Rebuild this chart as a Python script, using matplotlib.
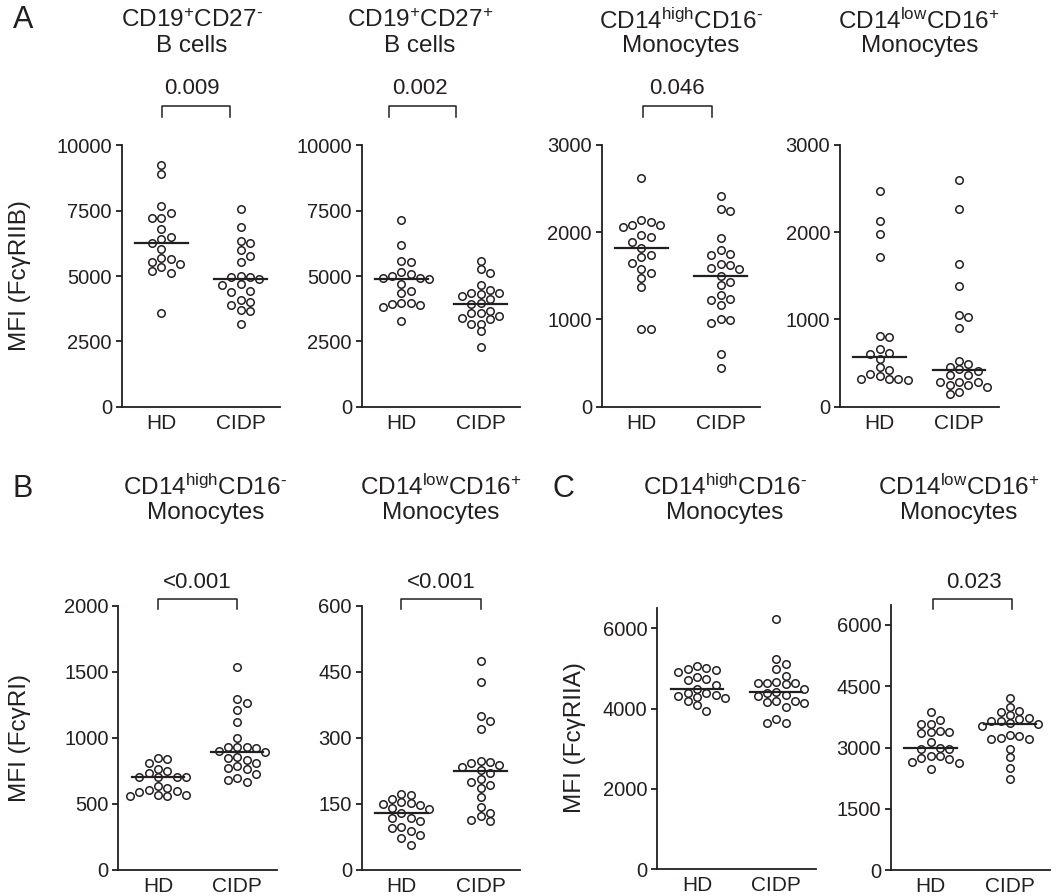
import numpy as np
import matplotlib
matplotlib.use('Agg')
import matplotlib.pyplot as plt
from matplotlib import transforms

plt.rcParams['font.family'] = ['Liberation Sans', 'DejaVu Sans']
plt.rcParams['mathtext.fontset'] = 'custom'
plt.rcParams['mathtext.rm'] = 'Liberation Sans'
plt.rcParams['mathtext.default'] = 'regular'

INK = '#231f20'
W, H = 1058, 896

groups = ['HD', 'CIDP']

# MFI values, one list per group and panel
b_naive_hd = [9235, 8890, 7691, 7423, 7232, 7232, 6798, 6505, 6416, 6263, 6020,
              5689, 5650, 5523, 5459, 5344, 5204, 5115, 3584]
b_naive_cidp = [7551, 6888, 6327, 6250, 5982, 5765, 5523, 4987, 4949, 4949, 4885,
                4681, 4656, 4426, 4400, 4094, 3992, 3890, 3712, 3648, 3163]
b_mem_hd = [7132, 6206, 5584, 5558, 5165, 5089, 5013, 4937, 4911, 4886, 4708,
            4416, 4340, 3985, 3972, 3921, 3883, 3820, 3287]
b_mem_cidp = [5596, 5279, 5127, 4645, 4454, 4365, 4353, 4302, 4251, 4124, 3959,
              3934, 3668, 3579, 3579, 3490, 3388, 3363, 3185, 3160, 2881, 2284]
mono_cl_2b_hd = [2615, 2139, 2113, 2082, 2075, 2052, 1968, 1938, 1881, 1820, 1736,
                 1709, 1648, 1576, 1530, 1473, 1370, 891, 891]
mono_cl_2b_cidp = [2417, 2269, 2238, 1926, 1793, 1751, 1736, 1637, 1622, 1591, 1576,
                   1500, 1431, 1389, 1279, 1230, 1226, 1161, 1001, 994, 963, 605, 445]
mono_nc_2b_hd = [2471, 2128, 1972, 1713, 807, 796, 659, 613, 598, 548, 453, 419,
                 369, 354, 316, 316, 316, 305]
mono_nc_2b_cidp = [2600, 2269, 1629, 1378, 1051, 1032, 898, 529, 487, 457, 426, 407,
                   358, 358, 286, 286, 282, 247, 244, 225, 164, 141]
mono_cl_1_hd = [846, 841, 806, 763, 747, 730, 702, 699, 699, 699, 636, 621, 601,
                596, 588, 563, 563, 558, 556]
mono_cl_1_cidp = [1538, 1290, 1265, 1210, 1116, 997, 932, 927, 927, 922, 896, 891,
                  851, 846, 828, 811, 785, 770, 765, 727, 692, 677, 664]
mono_nc_1_hd = [173, 170, 161, 154, 152, 149, 148, 141, 139, 128, 118, 118, 111,
                96, 95, 87, 80, 72, 57]
mono_nc_1_cidp = [475, 427, 350, 337, 320, 248, 245, 242, 239, 234, 227, 220, 206,
                  200, 192, 185, 165, 143, 129, 121, 114, 111]
mono_cl_2a_hd = [5054, 5004, 4996, 4954, 4905, 4780, 4730, 4705, 4598, 4498, 4398,
                 4398, 4340, 4315, 4290, 4257, 4199, 4083, 3934]
mono_cl_2a_cidp = [6224, 5228, 5111, 4979, 4812, 4671, 4646, 4630, 4630, 4613, 4481,
                   4406, 4381, 4339, 4322, 4198, 4198, 4156, 4148, 4048, 3734, 3634, 3634]
mono_nc_2a_hd = [3864, 3677, 3571, 3571, 3408, 3383, 3375, 3367, 3130, 2984, 2967,
                 2967, 2796, 2788, 2755, 2731, 2658, 2633, 2478]
mono_nc_2a_cidp = [4206, 4002, 3905, 3864, 3798, 3717, 3693, 3659, 3659, 3595, 3578,
                   3529, 3309, 3293, 3244, 3204, 3204, 2959, 2763, 2510, 2233]

titles_top = [r'CD19$^{+}$CD27$^{\text{-}}$', r'CD19$^{+}$CD27$^{+}$',
              r'CD14$^{high}$CD16$^{\text{-}}$', r'CD14$^{low}$CD16$^{+}$']
titles_bottom = [r'CD14$^{high}$CD16$^{\text{-}}$', r'CD14$^{low}$CD16$^{+}$',
                 r'CD14$^{high}$CD16$^{\text{-}}$', r'CD14$^{low}$CD16$^{+}$']
subtitles_top = ['B cells', 'B cells', 'Monocytes', 'Monocytes']
subtitles_bottom = ['Monocytes'] * 4
p_top = ['0.009', '0.002', '0.046', None]
p_bottom = ['<0.001', '<0.001', None, '0.023']

ticks_b = [0, 2500, 5000, 7500, 10000]
ticks_m = [0, 1000, 2000, 3000]
ticks_fcgr1 = [0, 500, 1000, 1500, 2000]
ticks_fcgr1_nc = [0, 150, 300, 450, 600]
ticks_fcgr2a = [0, 2000, 4000, 6000]
ticks_fcgr2a_nc = [0, 1500, 3000, 4500, 6000]


def fig_y(py):
    return 1 - py / H


def swarm_x(ax, values, center, step_px=9.3, min_px=7.8):
    # greedy beeswarm on fixed columns, balanced left/right
    values = np.asarray(values, float)
    ypix = ax.transData.transform(np.column_stack([np.full(len(values), center), values]))[:, 1]
    x0, x1 = ax.transData.transform([(0, 0), (1, 0)])[:, 0]
    px_per_unit = x1 - x0
    placed = []
    offs = np.zeros(len(values))
    for i in np.argsort(-values):
        y = ypix[i]
        near = [px for px, py in placed if abs(py - y) < step_px]
        side = -1 if sum(near) > 0 else 1
        cands = [0]
        for k in range(1, 8):
            cands += [side * k, -side * k]
        for k in cands:
            x = k * step_px
            if all(np.hypot(x - px, y - py) >= min_px for px, py in placed):
                break
        placed.append((x, y))
        offs[i] = x
    return center + offs / px_per_unit


def draw_panel(fig, rect, hd, cidp, ticks, ymax, title, subtitle, pval,
               title_x, title_y, p_x, p_y, bracket):
    ax = fig.add_axes(rect)
    ax.set_xlim(0.5, 2.5)
    ax.set_ylim(0, ymax)
    for name in ['top', 'right']:
        ax.spines[name].set_visible(False)
    for name in ['left', 'bottom']:
        ax.spines[name].set_linewidth(1.3)
        ax.spines[name].set_color(INK)
    ax.set_yticks(ticks)
    ax.set_yticklabels([str(t) for t in ticks])
    ax.set_xticks([1, 2])
    ax.set_xticklabels(groups)
    ax.tick_params(axis='y', length=4, width=1.3, color=INK, labelsize=14.5,
                   labelcolor=INK, pad=3)
    ax.tick_params(axis='x', length=0, labelsize=15, labelcolor=INK, pad=5)

    for pos, vals in zip([1, 2], [hd, cidp]):
        xs = swarm_x(ax, vals, pos)
        ax.scatter(xs, vals, s=29, facecolors='white', edgecolors=INK,
                   linewidths=1.1, zorder=3, clip_on=False)
        med = np.median(vals)
        ax.plot([pos - 0.33, pos + 0.33], [med, med], color=INK, lw=1.6, zorder=4)

    tr = transforms.blended_transform_factory(ax.transData, fig.transFigure)
    ax.text(title_x, fig_y(title_y[0]), title, transform=tr, ha='center', va='center',
            fontsize=17.5, color=INK)
    ax.text(title_x, fig_y(title_y[1]), subtitle, transform=tr, ha='center', va='center',
            fontsize=17.5, color=INK)
    if pval is not None:
        ax.text(p_x, fig_y(p_y), pval, transform=tr, ha='center', va='center',
                fontsize=16, color=INK)
        bx0, bx1, btop, bleg = bracket
        ax.plot([bx0, bx0, bx1, bx1], [fig_y(bleg), fig_y(btop), fig_y(btop), fig_y(bleg)],
                transform=tr, color=INK, lw=1.1, clip_on=False)
    return ax


def px_rect(left, top, bottom, width=158.6):
    return [left / W, 1 - bottom / H, width / W, (bottom - top) / H]


def main():
    fig = plt.figure(figsize=(W / 100, H / 100), dpi=100)

    top_rects = [px_rect(121.7, 145.5, 406.7), px_rect(361.7, 145.5, 406.7),
                 px_rect(601.7, 144.7, 406.7), px_rect(840, 144.7, 406.7)]
    top_data = [(b_naive_hd, b_naive_cidp, ticks_b, 10000),
                (b_mem_hd, b_mem_cidp, ticks_b, 10000),
                (mono_cl_2b_hd, mono_cl_2b_cidp, ticks_m, 3000),
                (mono_nc_2b_hd, mono_nc_2b_cidp, ticks_m, 3000)]
    top_title_x = [1.38, 1.23, 1.5, 1.5]
    top_p_x = [1.38, 1.23, 1.45, 1.5]
    top_brackets = [(1.01, 1.86), (0.85, 1.69), (1.02, 1.89), None]
    for i in range(4):
        hd, cidp, ticks, ymax = top_data[i]
        br = None
        if top_brackets[i] is not None:
            br = (top_brackets[i][0], top_brackets[i][1], 106, 117)
        draw_panel(fig, top_rects[i], hd, cidp, ticks, ymax, titles_top[i],
                   subtitles_top[i], p_top[i], top_title_x[i], (21, 46),
                   top_p_x[i], 88, br)
    fig.text(20 / W, fig_y(276), 'MFI (FcγRIIB)', rotation=90,
             ha='center', va='center', fontsize=17.5, color=INK)

    bottom_rects = [px_rect(118.3, 605.7, 869.7), px_rect(361.7, 605.7, 869.7),
                    px_rect(657.3, 608.2, 869.3), px_rect(891, 604.5, 870.3)]
    bottom_data = [(mono_cl_1_hd, mono_cl_1_cidp, ticks_fcgr1, 2000),
                   (mono_nc_1_hd, mono_nc_1_cidp, ticks_fcgr1_nc, 600),
                   (mono_cl_2a_hd, mono_cl_2a_cidp, ticks_fcgr2a, 6500),
                   (mono_nc_2a_hd, mono_nc_2a_cidp, ticks_fcgr2a_nc, 6500)]
    bottom_title_x = [1.6, 1.5, 1.35, 1.35]
    bottom_p_x = [1.5, 1.5, 1.5, 1.55]
    bottom_brackets = [(1.0, 2.0), (1.0, 2.0), None, (1.03, 2.03)]
    for i in range(4):
        hd, cidp, ticks, ymax = bottom_data[i]
        br = None
        if bottom_brackets[i] is not None:
            br = (bottom_brackets[i][0], bottom_brackets[i][1], 599, 609)
        draw_panel(fig, bottom_rects[i], hd, cidp, ticks, ymax, titles_bottom[i],
                   subtitles_bottom[i], p_bottom[i], bottom_title_x[i], (487, 513),
                   bottom_p_x[i], 582, br)
    fig.text(20 / W, fig_y(738), 'MFI (FcγRI)', rotation=90,
             ha='center', va='center', fontsize=17.5, color=INK)
    fig.text(575 / W, fig_y(738), 'MFI (FcγRIIA)', rotation=90,
             ha='center', va='center', fontsize=17.5, color=INK)

    fig.text(23 / W, fig_y(20), 'A', ha='center', va='center', fontsize=22, color=INK)
    fig.text(23 / W, fig_y(489), 'B', ha='center', va='center', fontsize=22, color=INK)
    fig.text(563 / W, fig_y(489), 'C', ha='center', va='center', fontsize=22, color=INK)

    fig.savefig('out.png', dpi=100)


if __name__ == "__main__":
    main()
